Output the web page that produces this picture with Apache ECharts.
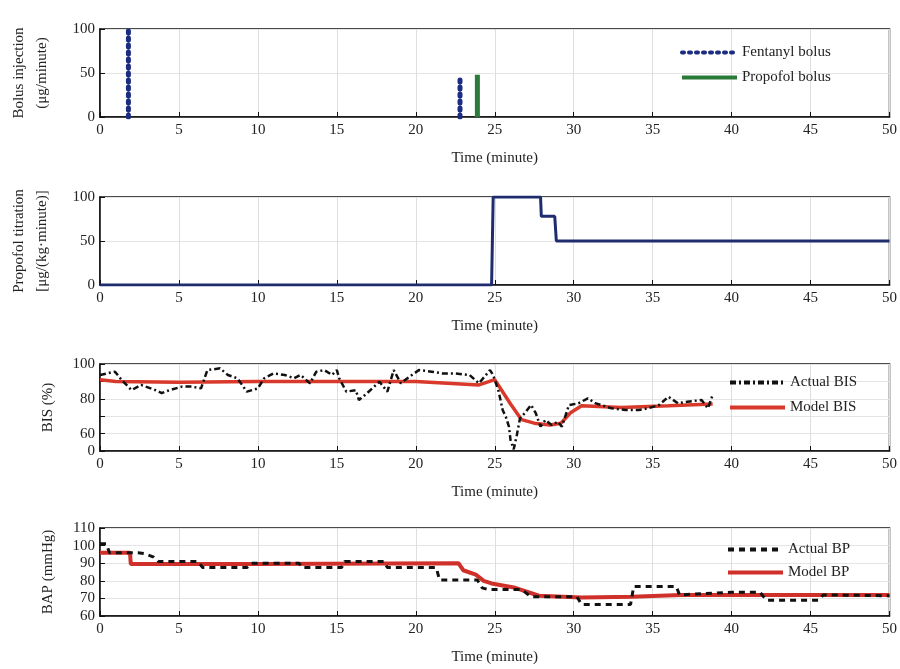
<!DOCTYPE html>
<html>
<head>
<meta charset="utf-8">
<script src="https://cdn.jsdelivr.net/npm/echarts@6/dist/echarts.min.js"></script>
<style>
html, body { margin: 0; padding: 0; background: #fff; }
#main { width: 900px; height: 669px; }
</style>
</head>
<body>
<div id="main"></div>
<script>
// panel 1: bolus injections [minute, ug/minute]
var fentanylFirst = [[1.8, 0], [1.8, 100]];
var fentanylSecond = [[22.8, 0], [22.8, 45]];
var propofolBolus = [[23.9, 0], [23.9, 48]];

// panel 2: propofol titration
var propofolTitration = [[0, 0], [24.8, 0], [24.9, 100], [27.9, 100], [27.95, 78], [28.8, 78], [28.9, 50], [50, 50]];

// panel 3: BIS
var actualBIS = [
    [0, 93.7], [0.95, 95.6], [1.37, 90.8], [2, 85], [2.6, 88], [3.5, 85], [3.9, 83.3], [4.4, 85],
    [5.2, 87], [5.8, 87], [6.4, 86], [6.8, 96.5], [7.6, 97.5], [8.1, 93.7], [8.7, 91.8], [9.3, 84.1],
    [10, 86], [10.4, 91.8], [11, 94.6], [11.7, 93.7], [12.3, 91.8], [12.7, 93.7], [13.3, 88.9],
    [13.7, 95.6], [14.2, 96.5], [14.7, 93.7], [15, 96.5], [15.15, 91.8], [15.6, 84.1], [16.2, 85],
    [16.4, 79.3], [16.9, 83.1], [17.7, 89.8], [18.2, 84.1], [18.6, 96.5], [19.05, 88.9], [19.6, 92.7],
    [20.2, 96.5], [21, 95.6], [21.7, 94.6], [22.4, 94.6], [23.4, 93.7], [24, 88.9], [24.7, 96.5],
    [24.9, 93.7], [25.25, 84.1], [25.5, 73.6], [25.7, 69.7], [25.9, 64], [26, 56.3], [26.2, 51],
    [26.4, 59.2], [26.6, 68.8], [26.9, 71.7], [27.3, 76.4], [27.6, 71.7], [27.9, 64], [28.2, 67.8],
    [28.6, 65], [29, 66.8], [29.25, 64], [29.7, 76.4], [30.3, 77.4], [30.9, 80.3], [31.4, 77.4],
    [32.4, 74.5], [33.3, 73.6], [34.1, 73.6], [34.7, 74.5], [35.4, 76.4], [36, 81.2], [36.6, 77.4],
    [37.2, 78.3], [38.1, 79.3], [38.5, 74.5], [38.8, 82.2]
];
var modelBIS = [
    [0, 91], [1, 90], [5, 89.5], [10, 90], [15, 90], [20, 90], [24, 88], [25, 91], [26, 77],
    [26.7, 68], [27.5, 66], [28.5, 65], [29.2, 66], [29.8, 72], [30.5, 76], [33, 75], [36, 76], [38.8, 77]
];

// panel 4: blood pressure
var actualBP = [
    [0, 101], [0.4, 101], [0.6, 96], [2.4, 96], [2.8, 95.5], [3.4, 93.5], [3.7, 91], [6.2, 91],
    [6.5, 87.5], [9.3, 87.5], [9.6, 90], [12.6, 90], [12.8, 87.5], [15.3, 87.5], [15.5, 91], [18, 91],
    [18.2, 87.5], [21.3, 87.5], [21.5, 80.5], [23.9, 80.5], [24.2, 76], [24.6, 75], [26.7, 75],
    [27.3, 71], [30.2, 71], [30.5, 66.5], [33.6, 66.5], [33.8, 76.7], [36.5, 76.7], [36.7, 72],
    [40, 73.5], [41.8, 73.5], [42.2, 69], [45.5, 69], [45.8, 72], [50, 71.5]
];
var modelBP = [
    [0, 96], [1.9, 96], [1.95, 89.5], [10, 89.5], [22.7, 90], [23, 86], [23.8, 83.5], [24.3, 80],
    [24.8, 78.5], [26.3, 76], [27.8, 71.5], [30.5, 70.5], [33.7, 71], [36.8, 72], [50, 72]
];

var serif = 'Liberation Serif';
var gridTops = [29, 197, 364, 528];
var gridHeights = [88, 88, 87, 88];

var chart = echarts.init(document.getElementById('main'));

var grids = [], xAxes = [], yAxes = [];
for (var i = 0; i < 4; i++) {
    grids.push({
        left: 100, right: 8, top: gridTops[i], height: gridHeights[i],
        show: true, borderColor: '#111', borderWidth: 1.5, backgroundColor: '#fff'
    });
    xAxes.push({
        type: 'value', gridIndex: i, min: 0, max: 50, interval: 5,
        name: 'Time (minute)', nameLocation: 'middle', nameGap: 34,
        nameTextStyle: { fontFamily: serif, fontSize: 15, color: '#222' },
        axisLine: { show: true, onZero: false, lineStyle: { color: '#111', width: 1.5 } },
        axisTick: { show: true, inside: true, length: 5, lineStyle: { color: '#111' } },
        axisLabel: { fontFamily: serif, fontSize: 15, color: '#222', margin: 6 },
        splitLine: { show: true, lineStyle: { color: '#dedede' } }
    });
}

function yAxis(i, min, max, step, name, fmt) {
    return {
        type: 'value', gridIndex: i, min: min, max: max, interval: step,
        name: name, nameLocation: 'middle', nameGap: 46, nameRotate: 90,
        nameTextStyle: { fontFamily: serif, fontSize: 15, color: '#222', lineHeight: 23 },
        axisLine: { show: true, lineStyle: { color: '#111', width: 1.5 } },
        axisTick: { show: true, inside: true, length: 5, lineStyle: { color: '#111' } },
        axisLabel: { fontFamily: serif, fontSize: 15, color: '#222', margin: 5, formatter: fmt },
        splitLine: { show: true, lineStyle: { color: '#e4e4e4' } }
    };
}
yAxes.push(yAxis(0, 0, 100, 50, 'Bolus injection\n(\u03bcg/minute)'));
yAxes.push(yAxis(1, 0, 100, 50, 'Propofol titration\n[\u03bcg/(kg\u00b7minute)]'));
yAxes.push(yAxis(2, 50, 100, 10, 'BIS (%)', function (v) {
    if (v === 50) return '0';
    if (v === 70 || v === 90) return '';
    return String(v);
}));
yAxes.push(yAxis(3, 60, 110, 10, 'BAP (mmHg)'));
yAxes[2].nameGap = 40;
yAxes[3].nameGap = 40;

function line(name, data, idx, style) {
    return {
        name: name, type: 'line', data: data, xAxisIndex: idx, yAxisIndex: idx,
        symbol: 'none', showSymbol: false, animation: false,
        lineStyle: style, itemStyle: { color: style.color }
    };
}

function legendBox(names, left, top, gap) {
    return {
        data: names, orient: 'vertical', left: left, top: top,
        itemWidth: 55, itemHeight: 14, itemGap: gap, padding: 0,
        itemStyle: { opacity: 0 },
        lineStyle: { width: 4 },
        textStyle: { fontFamily: serif, fontSize: 15, color: '#222' }
    };
}

var fentStyle = { color: '#1c2c80', width: 5, type: [2, 5], cap: 'round' };

option = {
    animation: false,
    backgroundColor: '#fff',
    grid: grids,
    xAxis: xAxes,
    yAxis: yAxes,
    legend: [
        legendBox(['Fentanyl bolus', 'Propofol bolus'], 680, 45, 10),
        legendBox(['Actual BIS', 'Model BIS'], 728, 375, 10),
        legendBox(['Actual BP', 'Model BP'], 726, 542, 8)
    ],
    series: [
        line('Fentanyl bolus', fentanylFirst, 0, fentStyle),
        line('Fentanyl bolus', fentanylSecond, 0, fentStyle),
        line('Propofol bolus', propofolBolus, 0, { color: '#2a7a3a', width: 5 }),
        line('Propofol titration', propofolTitration, 1, { color: '#1f2d6e', width: 3 }),
        line('Model BIS', modelBIS, 2, { color: '#d8392b', width: 3.5 }),
        line('Actual BIS', actualBIS, 2, { color: '#111', width: 2.5, type: [6, 3, 2, 3] }),
        line('Model BP', modelBP, 3, { color: '#d0302a', width: 4 }),
        line('Actual BP', actualBP, 3, { color: '#111', width: 3, type: [6, 5] })
    ]
};

chart.setOption(option);
</script>
</body>
</html>
